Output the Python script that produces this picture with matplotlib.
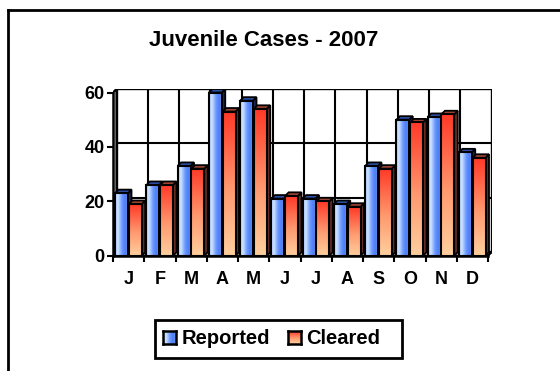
import numpy as np
import matplotlib
matplotlib.use("Agg")
import matplotlib.pyplot as plt
from matplotlib.patches import Rectangle, Polygon
from matplotlib.colors import LinearSegmentedColormap

plt.rcParams['font.family'] = ['Liberation Sans', 'DejaVu Sans']
plt.rcParams['font.weight'] = 'bold'

# ---- data ----
months = ['J', 'F', 'M', 'A', 'M', 'J', 'J', 'A', 'S', 'O', 'N', 'D']
reported = [23, 26, 33, 60, 57, 21, 21, 19, 33, 50, 51, 38]
cleared = [19, 26, 32, 53, 54, 22, 20, 18, 32, 49, 52, 36]
series_names = ['Reported', 'Cleared']
yticks = [0, 20, 40, 60]

W, H = 560, 371
fig = plt.figure(figsize=(W / 100, H / 100), dpi=100)


def fx(x):
    return x / W


def fy(y):
    return 1 - y / H


# outer frame (left and top edges)
fig.add_artist(plt.Line2D([fx(8), fx(8)], [fy(10), fy(H + 5)], color='black', lw=2))
fig.add_artist(plt.Line2D([fx(8), fx(W + 5)], [fy(10), fy(10)], color='black', lw=2))

fig.text(fx(264), fy(40), 'Juvenile Cases - 2007', ha='center', va='center',
         fontsize=16, fontweight='bold')

# plot region in pixels
left_px, right_px, top_px, bot_px = 113, 491.5, 89, 255.7
n = len(months)
unit_x = 375 / n
unit_y = 163 / 60
ddx = 3.5 / unit_x
ddy = 3.5 / unit_y

ax = fig.add_axes([fx(left_px), fy(bot_px), fx(right_px - left_px), (bot_px - top_px) / H])
ax.set_xlim(0, n + ddx)
ax.set_ylim(0, 60 + ddy)
ax.set_facecolor('none')
for s in ax.spines.values():
    s.set_visible(False)

# back wall with gridlines
ax.add_patch(Rectangle((ddx, ddy), n, 60, facecolor='white', edgecolor='black', lw=1.7, zorder=1))
for v in yticks[1:-1]:
    ax.plot([ddx, n + ddx], [v + ddy, v + ddy], color='black', lw=1.5, zorder=1.1)
for i in range(1, n):
    ax.plot([i + ddx, i + ddx], [ddy, 60 + ddy], color='black', lw=1.5, zorder=1.1)
# side wall and floor edges
ax.add_patch(Polygon([(0, 0), (ddx, ddy), (ddx, 60 + ddy), (0, 60)], closed=True,
                     facecolor='white', edgecolor='black', lw=1.6, zorder=1.2))
ax.add_patch(Polygon([(0, 0), (n, 0), (n + ddx, ddy), (ddx, ddy)], closed=True,
                     facecolor='white', edgecolor='black', lw=1.6, zorder=1.2))

blue_cmap = LinearSegmentedColormap.from_list(
    'blue', [(0, '#a6c8ff'), (0.22, '#cfe4ff'), (0.55, '#6a98ff'), (0.82, '#4a7cf5'), (1, '#7aa4ff')])
red_cmap = LinearSegmentedColormap.from_list(
    'red', [(0, '#ffcf9e'), (0.45, '#ff9a70'), (1, '#ff3a28')])

styles = [
    dict(cmap=blue_cmap, horiz=True, top='#2c4ea8', side='#1c2a5c'),
    dict(cmap=red_cmap, horiz=False, top='#a04434', side='#6a3024'),
]
offsets = [0.07, 0.51]
bw = 0.41
z = 3
for i in range(n):
    for k, vals in enumerate([reported, cleared]):
        h = vals[i]
        x0 = i + offsets[k]
        x1 = x0 + bw
        st = styles[k]
        side = Polygon([(x1, 0), (x1 + ddx, ddy), (x1 + ddx, h + ddy), (x1, h)], closed=True,
                       facecolor=st['side'], edgecolor='black', lw=1.3, zorder=z)
        top = Polygon([(x0, h), (x1, h), (x1 + ddx, h + ddy), (x0 + ddx, h + ddy)], closed=True,
                      facecolor=st['top'], edgecolor='black', lw=1.3, zorder=z)
        front = Rectangle((x0, 0), bw, h, facecolor='none', edgecolor='black', lw=1.5, zorder=z + 0.2)
        ax.add_patch(side)
        ax.add_patch(top)
        ax.add_patch(front)
        if st['horiz']:
            grad = np.linspace(0, 1, 64)[None, :]
        else:
            grad = np.linspace(0, 1, 64)[:, None]
        im = ax.imshow(grad, cmap=st['cmap'], extent=[x0, x1, 0, h], origin='lower',
                       aspect='auto', interpolation='bilinear', zorder=z + 0.1)
        im.set_clip_path(front)
        z += 0.5

ax.set_xlim(0, n + ddx)
ax.set_ylim(0, 60 + ddy)

# front axes lines
ax.plot([0, 0], [0, 60], color='black', lw=1.8, zorder=50, clip_on=False)
ax.plot([0, n], [0, 0], color='black', lw=1.8, zorder=50, clip_on=False)

ax.set_yticks(yticks)
ax.set_yticklabels([str(v) for v in yticks], fontsize=13, fontweight='bold')
ax.set_xticks(range(n + 1))
ax.set_xticklabels([])
ax.set_xticks(np.arange(n) + 0.5, minor=True)
ax.set_xticklabels(months, minor=True, fontsize=13, fontweight='bold')
ax.tick_params(axis='both', which='major', direction='out', length=4, width=1.5, color='black')
ax.tick_params(axis='y', pad=2)
ax.tick_params(axis='x', which='minor', length=0, pad=11)

# legend
lx0, ly0, lx1, ly1 = 155, 320, 402, 358
fig.add_artist(Rectangle((fx(lx0), fy(ly1)), fx(lx1 - lx0), (ly1 - ly0) / H,
                         facecolor='white', edgecolor='black', lw=2, zorder=-1))
sw = 13
for (sx, tx), name, st in zip([(163, 182), (288, 306)], series_names, styles):
    sax = fig.add_axes([fx(sx), fy(331 + sw), fx(sw), sw / H])
    if st['horiz']:
        g = np.linspace(0, 1, 32)[None, :]
    else:
        g = np.linspace(0, 1, 32)[:, None]
    sax.imshow(g, cmap=st['cmap'], aspect='auto', origin='lower', interpolation='bilinear')
    sax.set_xticks([])
    sax.set_yticks([])
    for s in sax.spines.values():
        s.set_linewidth(1.8)
    fig.text(fx(tx), fy(338), name, ha='left', va='center', fontsize=14.5, fontweight='bold')

fig.savefig('out.png', dpi=100)
